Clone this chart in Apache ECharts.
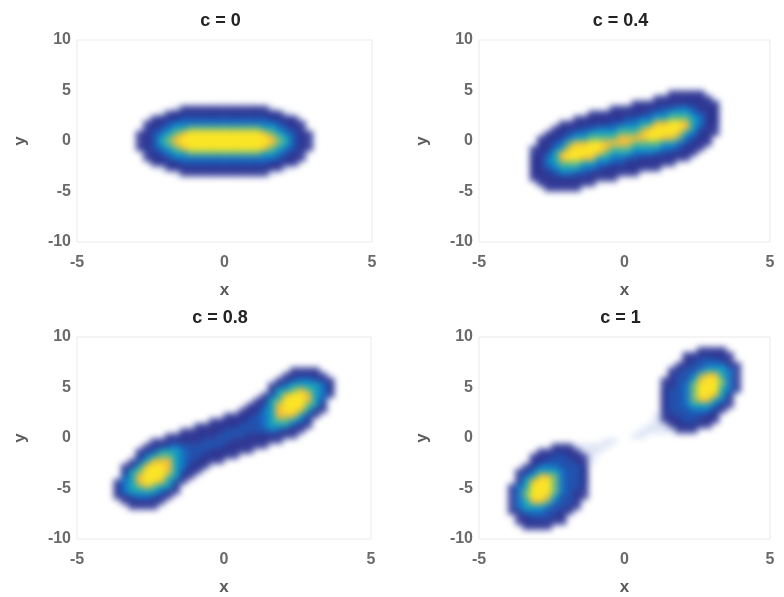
<!DOCTYPE html>
<html>
<head>
<meta charset="utf-8">
<script src="https://cdn.jsdelivr.net/npm/echarts@6/dist/echarts.min.js"></script>
<style>
html, body { margin: 0; padding: 0; background: #ffffff; }
#wrap { position: relative; width: 784px; height: 597px; }
#heat, #axes { position: absolute; left: 0; top: 0; width: 784px; height: 597px; }
#heat { filter: blur(3px); }
</style>
</head>
<body>
<div id="wrap"><div id="heat"></div><div id="axes"></div></div>
<script>
// ---------------- data ----------------
const panelTitles = ['c = 0', 'c = 0.4', 'c = 0.8', 'c = 1'];
const xTicks = [-5, 0, 5];
const yTicks = [-10, -5, 0, 5, 10];
const xRange = [-5, 5];
const yRange = [-10, 10];
// density level (0..9), cells 0.25 wide in x, 0.5 tall in y
const cellW = 0.25;
const cellH = 0.5;

const topYC0 = 3.25;
const rowsC0 = [
  "00000000000001222222 22222210000000000000",
  "00000000000123333333 33333332100000000000",
  "00000000002333444444 44444433320000000000",
  "00000000023345555555 55555554332000000000",
  "00000000023456677777 77777665432000000000",
  "00000000234567899999 99999876543200000000",
  "00000000234678999999 99999987643200000000",
  "00000000234678999999 99999987643200000000",
  "00000000234567899999 99999876543200000000",
  "00000000023456677777 77777665432000000000",
  "00000000023345555555 55555554332000000000",
  "00000000002333444444 44444433320000000000",
  "00000000000123333333 33333332100000000000",
  "00000000000001222222 22222210000000000000"
];

const topYC04 = 4.75;
const rowsC04 = [
  "00000000000000000000 00000022222000000000",
  "00000000000000000000 00002233333200000000",
  "00000000000000000000 02223333333320000000",
  "00000000000000000022 23333445543330000000",
  "00000000000000022233 33345566654330000000",
  "00000000000002233333 44556677765330000000",
  "00000000000223333344 55668899865330000000",
  "00000000002333445556 66789999864320000000",
  "00000000023345566667 77899998653320000000",
  "00000000233456677778 88899887543300000000",
  "00000000334578899888 87777665433200000000",
  "00000002335689999877 76666554332000000000",
  "00000002346899998766 65554433320000000000",
  "00000003356899886655 44333332200000000000",
  "00000003356777665544 33333220000000000000",
  "00000003345666554333 33222000000000000000",
  "00000003334554433332 22000000000000000000",
  "00000002333333332220 00000000000000000000",
  "00000000233333220000 00000000000000000000",
  "00000000022222000000 00000000000000000000"
];

const topYC08 = 6.75;
const rowsC08 = [
  "00000 000000000000000 000000000222200 00000",
  "00000 000000000000000 000000002333320 00000",
  "00000 000000000000000 000000023455432 00000",
  "00000 000000000000000 000000235666653 00000",
  "00000 000000000000000 000000366787653 00000",
  "00000 000000000000000 000002468998652 00000",
  "00000 000000000000000 000023679998640 00000",
  "00000 000000000000000 000234689997630 00000",
  "00000 000000000000000 002335689986320 00000",
  "00000 000000000000000 223345688864200 00000",
  "00000 000000000000022 333445677653000 00000",
  "00000 000000000002233 334445666432000 00000",
  "00000 000000000223333 444444543320000 00000",
  "00000 000000022333334 444333332200000 00000",
  "00000 000002233333444 433333220000000 00000",
  "00000 000023345444444 333322000000000 00000",
  "00000 000234666544433 332200000000000 00000",
  "00000 000356776544333 220000000000000 00000",
  "00000 002468886543322 000000000000000 00000",
  "00000 023689986533200 000000000000000 00000",
  "00000 036799986432000 000000000000000 00000",
  "00000 046899976320000 000000000000000 00000",
  "00000 256899864200000 000000000000000 00000",
  "00000 356787663000000 000000000000000 00000",
  "00000 356666532000000 000000000000000 00000",
  "00000 234554320000000 000000000000000 00000",
  "00000 023333200000000 000000000000000 00000",
  "00000 002222000000000 000000000000000 00000"
];

const topYC1 = 8.75;
const rowsC1 = [
  "0000 0000000000000000 0000000000222200 0000",
  "0000 0000000000000000 0000000022333320 0000",
  "0000 0000000000000000 0000000033444320 0000",
  "0000 0000000000000000 0000000234455532 0000",
  "0000 0000000000000000 0000002344566652 0000",
  "0000 0000000000000000 0000003445788652 0000",
  "0000 0000000000000000 0000023446899752 0000",
  "0000 0000000000000000 0000023457999752 0000",
  "0000 0000000000000000 0000034457999652 0000",
  "0000 0000000000000000 0000034457998630 0000",
  "0000 0000000000000000 0000034457886520 0000",
  "0000 0000000000000000 0000034456665320 0000",
  "0000 0000000000000000 0000034445553200 0000",
  "0000 0000000000000000 0000123444433000 0000",
  "0000 0000000000000000 0000123344332000 0000",
  "0000 0000000000000000 0001112333220000 0000",
  "0000 0000000000000000 0011111222000000 0000",
  "0000 0000000000000000 0110000000000000 0000",
  "0000 0000000000000110 0000000000000000 0000",
  "0000 0000002221111100 0000000000000000 0000",
  "0000 0000223332111000 0000000000000000 0000",
  "0000 0002334433210000 0000000000000000 0000",
  "0000 0003344443210000 0000000000000000 0000",
  "0000 0023555444300000 0000000000000000 0000",
  "0000 0235666544300000 0000000000000000 0000",
  "0000 0256887544300000 0000000000000000 0000",
  "0000 0368997544300000 0000000000000000 0000",
  "0000 2569997544300000 0000000000000000 0000",
  "0000 2579997543200000 0000000000000000 0000",
  "0000 2579986443200000 0000000000000000 0000",
  "0000 2568875443000000 0000000000000000 0000",
  "0000 2566654432000000 0000000000000000 0000",
  "0000 2355544320000000 0000000000000000 0000",
  "0000 0234443300000000 0000000000000000 0000",
  "0000 0233332200000000 0000000000000000 0000",
  "0000 0022220000000000 0000000000000000 0000"
];

const panelRows = [rowsC0, rowsC04, rowsC08, rowsC1];
const panelTopY = [topYC0, topYC04, topYC08, topYC1];

// ---------------- styles / layout ----------------
const levelColors = ['#dfe6f5', '#3f479e', '#2d3592', '#2150ad', '#1571c6', '#14a3bf', '#6bbb85', '#f2bd3a', '#fbe425'];
const gridBoxes = [
  { left: 77, top: 40, width: 295, height: 202 },
  { left: 479, top: 40, width: 291, height: 202 },
  { left: 77, top: 337, width: 294, height: 203 },
  { left: 479, top: 337, width: 291, height: 203 }
];
const FONT = '"Liberation Sans", Arial, Helvetica, sans-serif';

const nX = Math.round((xRange[1] - xRange[0]) / cellW);
const nY = Math.round((yRange[1] - yRange[0]) / cellH);
const xCats = [], yCats = [];
for (let i = 0; i < nX; i++) xCats.push(String(xRange[0] + cellW * (i + 0.5)));
for (let j = 0; j < nY; j++) yCats.push(String(yRange[0] + cellH * (j + 0.5)));

function toCells(rows, topY) {
  const out = [];
  const topIdx = Math.round((topY - yRange[0]) / cellH - 0.5);
  rows.forEach((raw, r) => {
    const s = raw.replace(/\s+/g, '');
    if (s.length !== nX) throw new Error('bad row length ' + s.length + ' in row ' + r);
    const yi = topIdx - r;
    for (let xi = 0; xi < s.length; xi++) {
      const v = +s[xi];
      if (v > 0) out.push([xi, yi, v]);
    }
  });
  return out;
}

// ---------------- heat layer ----------------
const heat = echarts.init(document.getElementById('heat'), null, { renderer: 'canvas' });
heat.setOption({
  animation: false,
  grid: gridBoxes.map(g => Object.assign({}, g, { containLabel: false })),
  xAxis: gridBoxes.map((g, k) => ({ type: 'category', gridIndex: k, data: xCats, show: false })),
  yAxis: gridBoxes.map((g, k) => ({ type: 'category', gridIndex: k, data: yCats, show: false })),
  visualMap: {
    type: 'continuous', show: false, min: 1, max: 9, dimension: 2,
    seriesIndex: [0, 1, 2, 3], inRange: { color: levelColors }
  },
  series: panelRows.map((rows, k) => ({
    type: 'heatmap', xAxisIndex: k, yAxisIndex: k,
    data: toCells(rows, panelTopY[k]),
    itemStyle: { borderWidth: 0 },
    emphasis: { disabled: true },
    progressive: 0
  }))
});

// ---------------- axes layer ----------------
const axes = echarts.init(document.getElementById('axes'), null, { renderer: 'canvas' });
axes.setOption({
  animation: false,
  title: gridBoxes.map((g, k) => ({
    text: panelTitles[k],
    left: g.left + g.width / 2 - 4,
    top: g.top - 28,
    textAlign: 'center',
    padding: 0,
    textStyle: { fontFamily: FONT, fontSize: 18, fontWeight: 'bold', color: '#222' }
  })),
  grid: gridBoxes.map(g => Object.assign({}, g, { show: true, borderColor: '#e9e9e9', borderWidth: 1, backgroundColor: 'transparent' })),
  xAxis: gridBoxes.map((g, k) => ({
    type: 'value', gridIndex: k, min: xRange[0], max: xRange[1], interval: 5,
    axisLine: { show: false }, axisTick: { show: false }, splitLine: { show: false },
    axisLabel: { fontFamily: FONT, fontSize: 16, fontWeight: 'bold', color: '#6a6a6a', margin: 13,
      formatter: v => (xTicks.indexOf(v) >= 0 ? String(v) : '') },
    name: 'x', nameLocation: 'middle', nameGap: 40,
    nameTextStyle: { fontFamily: FONT, fontSize: 17, fontWeight: 'bold', color: '#5a5a5a' }
  })),
  yAxis: gridBoxes.map((g, k) => ({
    type: 'value', gridIndex: k, min: yRange[0], max: yRange[1], interval: 5,
    axisLine: { show: false }, axisTick: { show: false }, splitLine: { show: false },
    axisLabel: { fontFamily: FONT, fontSize: 16, fontWeight: 'bold', color: '#6a6a6a', margin: 6,
      padding: [5, 0, 0, 0],
      formatter: v => (yTicks.indexOf(v) >= 0 ? String(v) : '') },
    name: 'y', nameLocation: 'middle', nameGap: 48,
    nameTextStyle: { fontFamily: FONT, fontSize: 17, fontWeight: 'bold', color: '#5a5a5a' }
  }))
});
</script>
</body>
</html>
